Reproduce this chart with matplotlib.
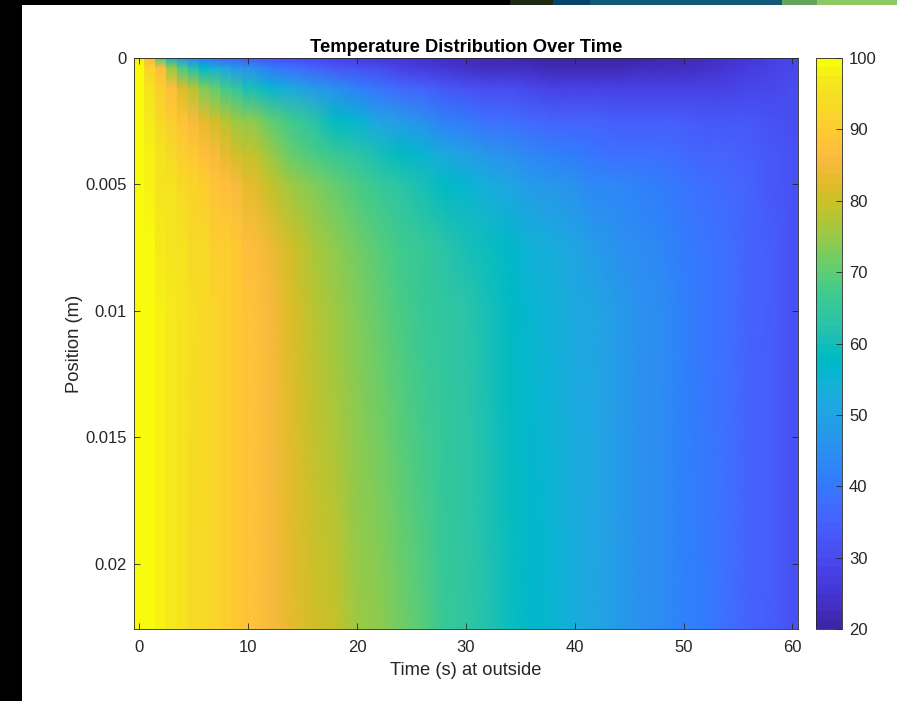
import numpy as np
import matplotlib
matplotlib.use("Agg")
import matplotlib.pyplot as plt
from matplotlib.colors import ListedColormap
from matplotlib.patches import Rectangle

plt.rcParams["font.family"] = ["Liberation Sans", "DejaVu Sans"]

# ------------------------------------------------------------------
# Values
# ------------------------------------------------------------------
times = [0, 1, 2, 3, 4, 5, 6, 7, 8, 9, 10, 12, 14, 16, 18, 20, 22, 24, 26, 28, 30, 32, 34, 36,
         38, 40, 42, 44, 46, 48, 50, 52, 54, 56, 58, 60]
depths = [0, 0.0004, 0.0012, 0.0025, 0.0038, 0.005, 0.0075, 0.01, 0.0226]

temp_d0 = [98, 85, 68, 54, 46, 42, 39, 37, 35.5, 34.5, 33.5, 31.5, 30, 29, 28, 27, 26, 25, 24, 23, 22.5, 22, 21.5, 21.2,
           21, 21, 21, 21, 21, 21.5, 22, 23, 24.5, 26, 27.5, 29]
temp_d1 = [99, 92, 87, 76, 68, 62, 57, 54, 50, 47, 45, 41, 38, 35.5, 33, 31.5, 30, 28.5, 27, 25.5, 24.5, 23.5, 23, 22.5,
           22, 22, 22, 22, 22.5, 23, 23.5, 24.5, 25.5, 27, 28, 29.5]
temp_d2 = [100, 96, 91, 87, 82, 78, 73.5, 70, 67, 64, 60, 56, 52, 48, 45, 42, 39.5, 37, 35.5, 33.5, 32, 31, 30, 29,
           28.5, 28, 28, 27.5, 27.5, 27.5, 28, 28, 28.5, 29, 29.5, 30]
temp_d3 = [100, 97, 93, 90.5, 88, 86, 83, 80, 77.5, 76, 74, 70, 66.5, 62.5, 58.5, 55, 51, 47.5, 45, 42, 40.5, 38.5, 37.5, 36.5,
           36, 35.5, 35, 34.5, 34.2, 34, 33.8, 33.5, 33.2, 33, 32, 31]
temp_d4 = [100, 98, 95.5, 93, 91, 89, 87, 85, 83, 81, 79, 75, 71, 68, 65, 62.5, 60, 57.5, 55, 52, 49.5, 47, 45, 43,
           42, 40.5, 39.5, 38.5, 38, 37.5, 37, 36, 35, 34, 33, 31.5]
temp_d5 = [100, 98, 96, 95, 93, 92, 90, 88.5, 87, 86, 83.5, 79.5, 75.5, 73, 70, 68, 65.5, 63, 60.5, 58, 55.5, 53, 50.5, 48.5,
           46.5, 45, 43.5, 42.5, 41.5, 40.5, 39.5, 38, 36.5, 35, 33.5, 32]
temp_d6 = [100, 99, 97, 96, 95, 93.5, 92.5, 91, 90, 89, 87, 84, 80.5, 77, 74, 71.5, 69.5, 67, 65, 63, 61, 59, 56.5, 54.5,
           52.5, 50.5, 48, 46, 44.5, 43, 41, 39, 37.5, 36, 34, 32]
temp_d7 = [100, 99, 97.5, 96.5, 95, 94, 93, 91.5, 90.5, 89, 87.5, 85, 81.5, 78.5, 75.5, 73, 70.5, 68, 66, 64.5, 63, 61, 58, 56,
           54, 52, 50, 48, 46, 44, 41.5, 39.5, 37.5, 36, 34, 32]
temp_d8 = [100, 99.5, 98, 96.5, 95.5, 93.5, 92.5, 91.5, 90.5, 89.5, 88.5, 86, 83.5, 81, 79, 76, 74, 71.5, 69, 66, 64, 62, 59, 57,
           55, 52.5, 50, 48, 46, 44, 42, 40, 37.5, 36, 34, 31.5]

x_ticks = [0, 10, 20, 30, 40, 50, 60]
y_ticks = [0, 0.005, 0.01, 0.015, 0.02]
y_ticklabels = ["0", "0.005", "0.01", "0.015", "0.02"]
cbar_ticks = [20, 30, 40, 50, 60, 70, 80, 90, 100]

# MATLAB parula
parula = ListedColormap([
    [0.2422, 0.1504, 0.6603], [0.2504, 0.1650, 0.7076], [0.2578, 0.1818, 0.7511], [0.2647, 0.1978, 0.7952],
    [0.2706, 0.2147, 0.8364], [0.2751, 0.2342, 0.8710], [0.2783, 0.2559, 0.8991], [0.2803, 0.2782, 0.9221],
    [0.2813, 0.3006, 0.9414], [0.2810, 0.3228, 0.9579], [0.2795, 0.3447, 0.9717], [0.2760, 0.3667, 0.9829],
    [0.2699, 0.3892, 0.9906], [0.2602, 0.4123, 0.9952], [0.2440, 0.4358, 0.9988], [0.2206, 0.4603, 0.9973],
    [0.1963, 0.4847, 0.9892], [0.1834, 0.5074, 0.9798], [0.1786, 0.5289, 0.9682], [0.1764, 0.5499, 0.9520],
    [0.1687, 0.5703, 0.9359], [0.1540, 0.5902, 0.9218], [0.1460, 0.6091, 0.9079], [0.1380, 0.6276, 0.8973],
    [0.1248, 0.6459, 0.8883], [0.1113, 0.6635, 0.8763], [0.0952, 0.6798, 0.8598], [0.0689, 0.6948, 0.8394],
    [0.0297, 0.7082, 0.8163], [0.0036, 0.7203, 0.7917], [0.0067, 0.7312, 0.7660], [0.0433, 0.7411, 0.7394],
    [0.0964, 0.7500, 0.7120], [0.1408, 0.7584, 0.6842], [0.1717, 0.7670, 0.6554], [0.1938, 0.7758, 0.6251],
    [0.2161, 0.7843, 0.5923], [0.2470, 0.7918, 0.5567], [0.2906, 0.7973, 0.5188], [0.3406, 0.8008, 0.4789],
    [0.3909, 0.8029, 0.4354], [0.4456, 0.8024, 0.3909], [0.5044, 0.7993, 0.3480], [0.5616, 0.7942, 0.3045],
    [0.6174, 0.7876, 0.2612], [0.6720, 0.7793, 0.2227], [0.7242, 0.7698, 0.1910], [0.7738, 0.7598, 0.1646],
    [0.8203, 0.7498, 0.1535], [0.8634, 0.7406, 0.1596], [0.9035, 0.7330, 0.1774], [0.9393, 0.7288, 0.2100],
    [0.9728, 0.7298, 0.2394], [0.9956, 0.7434, 0.2371], [0.9970, 0.7659, 0.2199], [0.9952, 0.7861, 0.1996],
    [0.9892, 0.8086, 0.1816], [0.9786, 0.8297, 0.1655], [0.9676, 0.8497, 0.1492], [0.9610, 0.8709, 0.1357],
    [0.9597, 0.8890, 0.1197], [0.9628, 0.9135, 0.1040], [0.9691, 0.9437, 0.0780], [0.9763, 0.9831, 0.0538],
])

# ------------------------------------------------------------------
# Figure
# ------------------------------------------------------------------
W, H = 897, 701
fig = plt.figure(figsize=(W / 100, H / 100), dpi=100, facecolor="white")


def px_axes(x0, y0, x1, y1):
    return fig.add_axes([x0 / W, 1 - y1 / H, (x1 - x0) / W, (y1 - y0) / H])


# window edges of the screenshot
for x0, x1, y1, c in [(0, 22, H, "black"), (0, 510, 5, "black"), (510, 553, 5, "#1f2a14"),
                      (553, 590, 5, "#07426c"), (590, 782, 5, "#135874"),
                      (782, 817, 5, "#64a45c"), (817, 897, 5, "#8cc864")]:
    fig.add_artist(Rectangle((x0 / W, 1 - y1 / H), (x1 - x0) / W, y1 / H,
                             transform=fig.transFigure, color=c, lw=0))

ax = px_axes(133.8, 58, 797.8, 629.3)
temps = np.array([temp_d0, temp_d1, temp_d2, temp_d3, temp_d4, temp_d5, temp_d6, temp_d7, temp_d8])

# the early 1 s columns show as flat strips, so give each one its own width
xs, cols = [], []
for i, t in enumerate(times):
    if t <= 10:
        xs += [t - 0.5, t + 0.5]
        cols += [i, i]
    else:
        xs.append(t)
        cols.append(i)
xs.append(60.5)
cols.append(len(times) - 1)

mesh = ax.pcolormesh(xs, depths, temps[:, cols], shading="gouraud", cmap=parula, vmin=20, vmax=100)

ax.set_xlim(-0.5, 60.5)
ax.set_ylim(0.0226, 0)
ax.set_xticks(x_ticks)
ax.set_yticks(y_ticks)
ax.set_yticklabels(y_ticklabels)
ax.tick_params(direction="in", length=4, width=0.6, top=True, right=True,
               labelsize=12, color="#262626", labelcolor="#262626")
ax.tick_params(axis="x", pad=8)
ax.tick_params(axis="y", pad=5)
for s in ax.spines.values():
    s.set_linewidth(0.6)
    s.set_color("#262626")
ax.set_title("Temperature Distribution Over Time", fontsize=13.2, fontweight="bold", pad=4)
ax.set_xlabel("Time (s) at outside", fontsize=13.2, color="#262626", labelpad=5)
ax.set_ylabel("Position (m)", fontsize=13.2, color="#262626", labelpad=2)

cax = px_axes(816, 58, 842, 629.3)
cb = fig.colorbar(mesh, cax=cax)
cb.set_ticks(cbar_ticks)
cb.ax.tick_params(direction="in", length=4, width=0.6, labelsize=12,
                  color="#262626", labelcolor="#262626", pad=5)
cb.outline.set_linewidth(0.6)
cb.outline.set_edgecolor("#262626")

fig.savefig("out.png", dpi=100)
